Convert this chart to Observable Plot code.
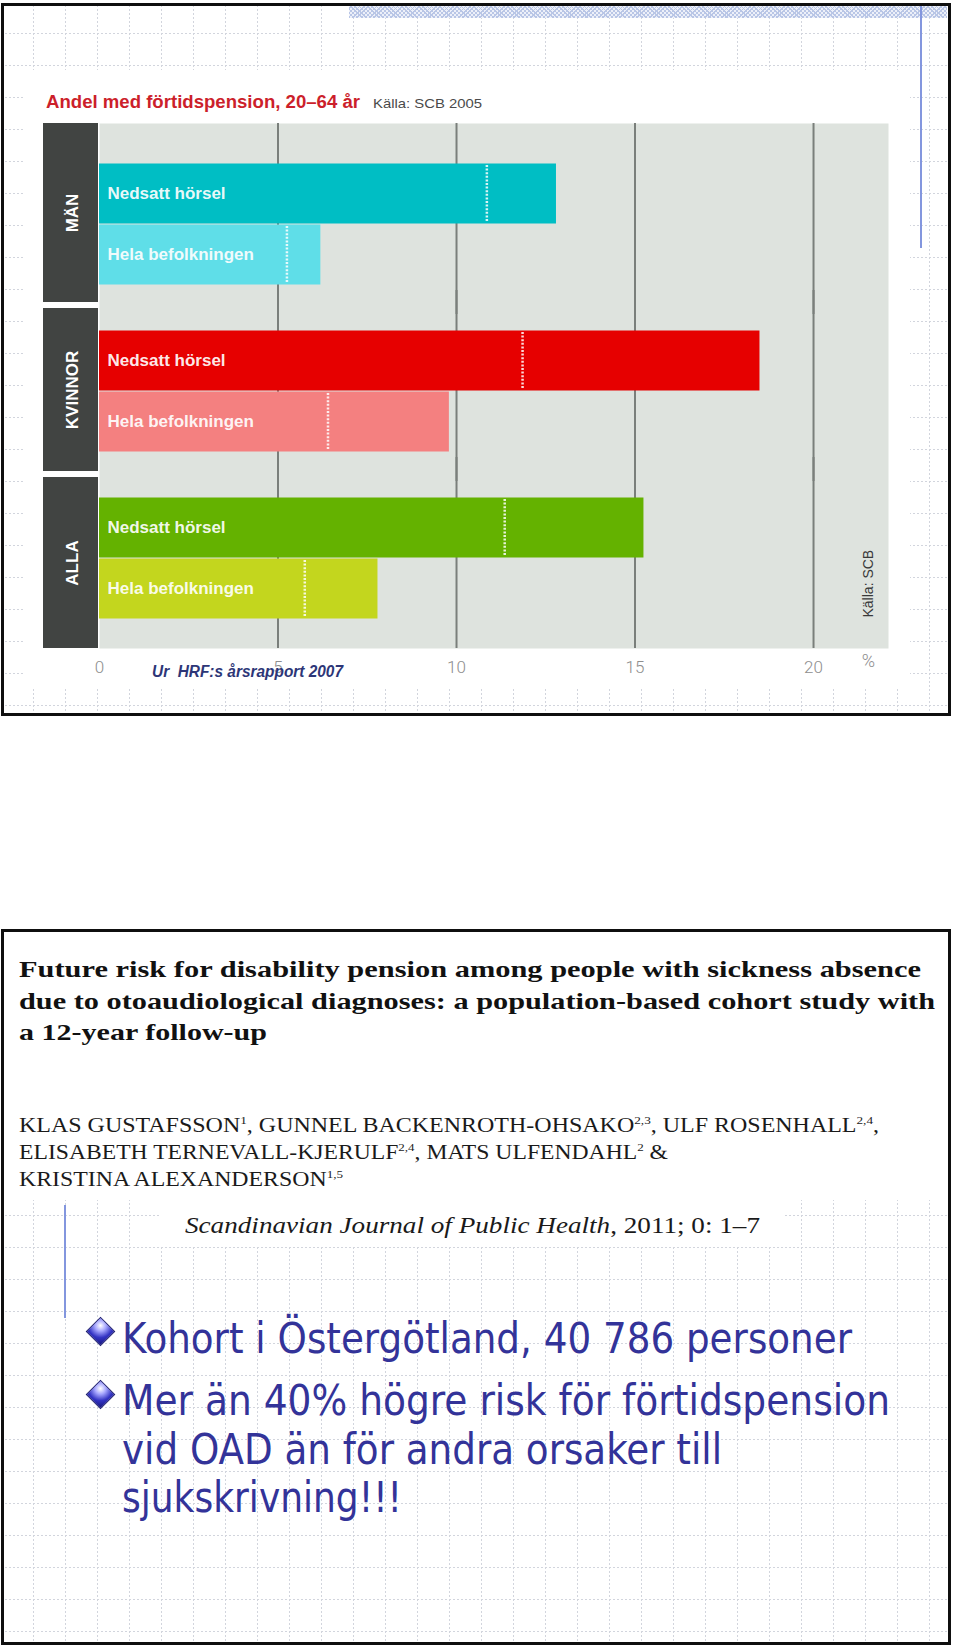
<!DOCTYPE html>
<html>
<head>
<meta charset="utf-8">
<script src="https://cdn.jsdelivr.net/npm/d3@7"></script>
<script src="https://cdn.jsdelivr.net/npm/@observablehq/plot@0.6"></script>
<style>
  html, body { margin: 0; padding: 0; background: #fff; overflow: hidden; }
  #page { position: relative; width: 960px; height: 1645px; }
  .slide { position: absolute; box-sizing: border-box; border: 3px solid #0f0f0f;
    background-color: #fff;
    background-image: url("data:image/svg+xml;utf8,<svg xmlns='http://www.w3.org/2000/svg' width='32' height='32'><path d='M0.5 0V32M0 0.5H32' stroke='%23d2d5dd' stroke-width='1' stroke-dasharray='2 2' fill='none'/></svg>");
    background-position: 29px 27px; }
  .white { position: absolute; background: #fff; }
  .t { position: absolute; white-space: pre; line-height: 1; display: inline-block; transform-origin: 0 0; }
  .diamond { position: absolute; width: 21px; height: 21px; transform: rotate(45deg); box-sizing: border-box;
    border: 1px solid #1d1d6e;
    background: radial-gradient(circle at 28% 28%, #ffffff 0%, #a8a8ff 28%, #3434c4 62%, #16167c 100%); }
  #chart { position: absolute; left: 0; top: 110px; }
  sup { font-size: 0.55em; vertical-align: 0.75em; line-height: 0; }
</style>
</head>
<body>
<div id="page">
  <!-- slide 1 -->
  <div class="slide" style="left:1px;top:3px;width:950px;height:713px;"></div>
  <div class="white" style="left:25px;top:70px;width:885px;height:618px;"></div>
  <div style="position:absolute;left:349px;top:6px;width:598px;height:12px;
    background: repeating-linear-gradient(45deg, #b9c6e6 0 1px, transparent 1px 3px), repeating-linear-gradient(-45deg, #b9c6e6 0 1px, #edf0f9 1px 3px);"></div>
  <div style="position:absolute;left:920px;top:6px;width:2px;height:242px;background:#8396de;"></div>

  <div id="chart"></div>

  <div class="t" data-w="314" style="left:46px;top:92px;font:bold 18px 'Liberation Sans',Arial,sans-serif;color:#cc1f2b;">Andel med förtidspension, 20–64 år</div>
  <div class="t" data-w="109" style="left:373px;top:96px;font:13px 'Liberation Sans',Arial,sans-serif;color:#4a4a4a;">Källa: SCB 2005</div>
  <div class="t" data-w="191" style="left:152px;top:663px;font:italic bold 16px 'Liberation Sans',Arial,sans-serif;color:#2d3677;z-index:3;">Ur  HRF:s årsrapport 2007</div>

  <!-- slide 2 -->
  <div class="slide" style="left:1px;top:929px;width:950px;height:716px;"></div>
  <div class="white" style="left:4px;top:932px;width:944px;height:268px;"></div>
  <div class="white" style="left:160px;top:1200px;width:625px;height:47px;"></div>
  <div style="position:absolute;left:64px;top:1205px;width:2px;height:113px;background:#8396de;"></div>

  <div class="t" data-w="902" style="left:19px;top:956px;font:bold 24px 'Liberation Serif','Times New Roman',serif;color:#111;">Future risk for disability pension among people with sickness absence</div>
  <div class="t" data-w="916" style="left:19px;top:988px;font:bold 24px 'Liberation Serif','Times New Roman',serif;color:#111;">due to otoaudiological diagnoses: a population-based cohort study with</div>
  <div class="t" data-w="248" style="left:19px;top:1019px;font:bold 24px 'Liberation Serif','Times New Roman',serif;color:#111;">a 12-year follow-up</div>

  <div class="t" data-w="860" style="left:19px;top:1114px;font:20px 'Liberation Serif','Times New Roman',serif;color:#1a1a1a;">KLAS GUSTAFSSON<sup>1</sup>, GUNNEL BACKENROTH-OHSAKO<sup>2,3</sup>, ULF ROSENHALL<sup>2,4</sup>,</div>
  <div class="t" data-w="649" style="left:19px;top:1141px;font:20px 'Liberation Serif','Times New Roman',serif;color:#1a1a1a;">ELISABETH TERNEVALL-KJERULF<sup>2,4</sup>, MATS ULFENDAHL<sup>2</sup> &amp;</div>
  <div class="t" data-w="324" style="left:19px;top:1168px;font:20px 'Liberation Serif','Times New Roman',serif;color:#1a1a1a;">KRISTINA ALEXANDERSON<sup>1,5</sup></div>
  <div class="t" data-w="575" style="left:185px;top:1213px;font:italic 23px 'Liberation Serif','Times New Roman',serif;color:#1a1a1a;">Scandinavian Journal of Public Health<span style="font-style:normal">, 2011; 0: 1–7</span></div>

  <div class="diamond" style="left:90px;top:1321px;"></div>
  <div class="diamond" style="left:90px;top:1384px;"></div>
  <div class="t" data-w="730" style="left:122px;top:1314px;font:42px 'DejaVu Sans Condensed','DejaVu Sans',sans-serif;color:#333399;">Kohort i Östergötland, 40 786 personer</div>
  <div class="t" data-w="768" style="left:122px;top:1376px;font:42px 'DejaVu Sans Condensed','DejaVu Sans',sans-serif;color:#333399;">Mer än 40% högre risk för förtidspension</div>
  <div class="t" data-w="600" style="left:122px;top:1425px;font:42px 'DejaVu Sans Condensed','DejaVu Sans',sans-serif;color:#333399;">vid OAD än för andra orsaker till</div>
  <div class="t" data-w="280" style="left:122px;top:1473px;font:42px 'DejaVu Sans Condensed','DejaVu Sans',sans-serif;color:#333399;">sjukskrivning!!!</div>
</div>

<script>
// fit static text widths
document.querySelectorAll("[data-w]").forEach(el => {
  el.style.transform = "none";
  const w = el.getBoundingClientRect().width;
  const target = +el.dataset.w;
  if (w > 0) el.style.transform = `scaleX(${target / w})`;
});

// ---- data ----
const groups = ["MÄN", "KVINNOR", "ALLA"];
const barLabels = ["Nedsatt hörsel", "Hela befolkningen"];
const menPct = [12.8, 6.2];
const womenPct = [18.5, 9.8];
const allPct = [15.25, 7.8];
const menMarker = [10.85, 5.25];
const womenMarker = [11.85, 6.4];
const allMarker = [11.35, 5.75];
const xTicks = [0, 5, 10, 15, 20];
const gridValues = [5, 10, 15, 20];
const sourceNote = ["Källa: SCB"];
const unitLabel = ["%"];

// ---- styles ----
const barColors = ["#00bec4", "#5fdee8", "#e60000", "#f48080", "#64b200", "#c3d61e"];
// how far each dark group strip reaches past its facet band (top, bottom), px
const stripInsets = [[-20, 2], [-2, 0], [0, -10]];

const pct = [menPct, womenPct, allPct];
const markers = [menMarker, womenMarker, allMarker];
const rows = groups.flatMap((g, i) => barLabels.map((b, j) => ({
  group: g, bar: b, key: g + " · " + b, value: pct[i][j], marker: markers[i][j]
})));
const keys = rows.map(d => d.key);

const stripMarks = groups.flatMap((g, i) => {
  const [t, b] = stripInsets[i];
  return [
    Plot.rect([g], {fy: d => d, fill: "#414442", insetLeft: -56, insetRight: 790, insetTop: t, insetBottom: b}),
    Plot.text([g], {fy: d => d, text: d => d, frameAnchor: "left", dx: -27, dy: (t - b) / 2, textAnchor: "middle", rotate: -90, fill: "#ffffff", fontWeight: "bold", fontSize: 17})
  ];
});

const chart = Plot.plot({
  width: 960,
  height: 590,
  marginLeft: 99,
  marginRight: 72,
  marginTop: 13,
  marginBottom: 52,
  style: {background: "transparent", fontFamily: "'Liberation Sans', Arial, sans-serif", color: "#8e8e8e", overflow: "visible"},
  x: {domain: [0, 22.1], axis: null},
  y: {domain: barLabels, paddingInner: 0, paddingOuter: 0.313, align: 0.5, axis: null},
  fy: {domain: groups, paddingInner: 0.0359, paddingOuter: 0.0898, align: 0.667, axis: null, label: null},
  color: {type: "ordinal", domain: keys, range: barColors},
  marks: [
    Plot.frame({fill: "#dee3de", facet: "super", insetTop: -20, insetBottom: -10}),
    Plot.ruleX(gridValues, {stroke: "#7a7f7b", strokeWidth: 2, insetTop: -20, insetBottom: -10}),
    ...stripMarks,
    Plot.barX(rows, {x: "value", y: "bar", fy: "group", fill: "key", insetTop: 0.5, insetBottom: 0.5}),
    Plot.tickX(rows, {x: "marker", y: "bar", fy: "group", stroke: "#ffffff", strokeOpacity: 0.85, strokeWidth: 2.5, strokeDasharray: "2,1.6", insetTop: 2, insetBottom: 2}),
    Plot.text(rows, {y: "bar", fy: "group", text: "bar", frameAnchor: "left", dx: 8, textAnchor: "start", fill: "#ffffff", fillOpacity: 0.93, fontWeight: "bold", fontSize: 17}),
    Plot.text(sourceNote, {fy: () => groups[2], text: d => d, frameAnchor: "bottom-right", textAnchor: "start", rotate: -90, dx: -16, dy: -21, fontSize: 14, fill: "#3a3a3a"}),
    Plot.text(unitLabel, {facet: "super", text: d => d, frameAnchor: "bottom-right", textAnchor: "middle", dx: -20, dy: 28, fontSize: 18, fill: "#8e8e8e", fontFamily: "Roboto, 'Liberation Sans', sans-serif", fontWeight: 300}),
    Plot.axisX({ticks: xTicks, tickSize: 0, tickPadding: 22, fontSize: 17, label: null, fontFamily: "Roboto, 'Liberation Sans', sans-serif", fontWeight: 300})
  ]
});
document.getElementById("chart").appendChild(chart);
</script>
</body>
</html>
